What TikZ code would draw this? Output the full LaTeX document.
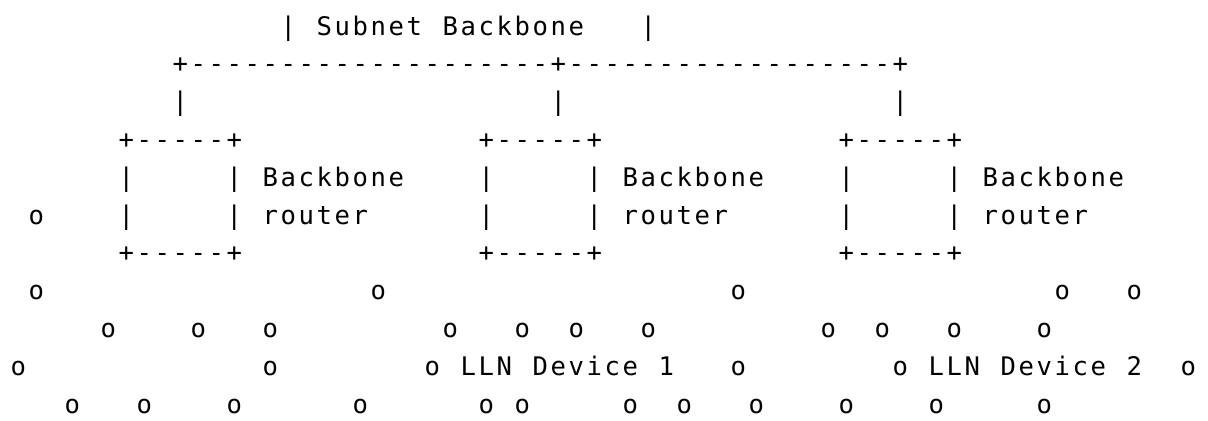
\documentclass[tikz,border=0pt]{standalone}
\usepackage{fontspec}
\setmonofont{DejaVu Sans Mono}[LetterSpace=10.1]
\usepackage{tikz}

\begin{document}
\begin{tikzpicture}[
			x=9pt,
			y=-18.9pt,
			ascii/.style={font=\ttfamily\fontsize{12.8pt}{15pt}\selectfont,
				inner sep=0pt, anchor=base west, xshift=0.65pt}
			]
			% Page of the figure
			\useasboundingbox (0pt,0pt) rectangle (604pt,-210pt);
			
			\begin{scope}[shift={(4.5pt,-17.5pt)}]
				% Subnet backbone label
				\node[ascii] (sbleft) at (15,0) {|};
				\node[ascii] (sbname) at (17,0) {Subnet};
				\node[ascii] (sbword) at (24,0) {Backbone};
				\node[ascii] (sbright) at (35,0) {|};
				
				% Backbone line and its drops to the routers
				\node[ascii] (bus) at (9,1) {+--------------------+------------------+};
				\foreach \c in {9,30,49}
				\node[ascii] (drop\c) at (\c,2) {|};
				
				% Three backbone routers
				\foreach \c [count=\i] in {6,26,46}
				{
					\node[ascii] (top\i) at (\c,3) {+-----+};
					\node[ascii] (lsa\i) at (\c,4) {|};
					\node[ascii] (rsa\i) at (\c+6,4) {|};
					\node[ascii] (lsb\i) at (\c,5) {|};
					\node[ascii] (rsb\i) at (\c+6,5) {|};
					\node[ascii] (bot\i) at (\c,6) {+-----+};
					\node[ascii] (bbname\i) at (\c+8,4) {Backbone};
					\node[ascii] (rtname\i) at (\c+8,5) {router};
				}
				
				% LLN devices, row by row
				\foreach \r/\cols in {
					5/{1},
					7/{1,20,40,58,62},
					8/{5,10,14,24,28,31,35,45,48,52,57},
					9/{0,14,23,40,49,65},
					10/{3,7,12,19,26,28,34,37,41,46,51,57}}
				\foreach \c in \cols
				{
					\node[ascii] (dev\r-\c) at (\c,\r) {o};
				}
				
				% Device labels
				\node[ascii] (llna) at (25,9) {LLN};
				\node[ascii] (deva) at (29,9) {Device};
				\node[ascii] (numa) at (36,9) {1};
				\node[ascii] (llnb) at (51,9) {LLN};
				\node[ascii] (devb) at (55,9) {Device};
				\node[ascii] (numb) at (62,9) {2};
			\end{scope}
		\end{tikzpicture}
\end{document}
